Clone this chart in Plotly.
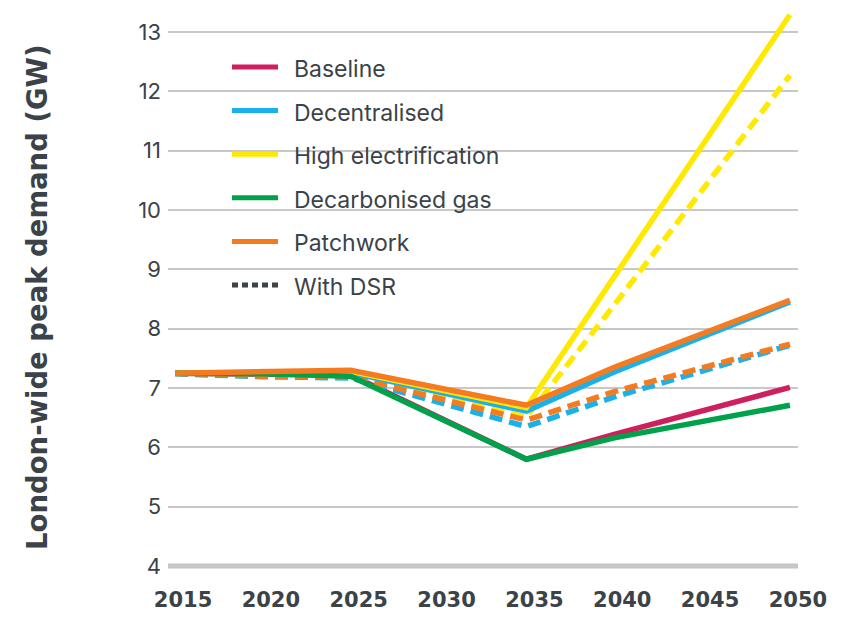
import plotly.graph_objects as go

# ---- data ----
years = [2015, 2020, 2025, 2035, 2040, 2050]
baseline = [7.25, 7.24, 7.22, 5.80, 6.22, 7.01]
decentralised = [7.25, 7.25, 7.26, 6.61, 7.27, 8.45]
high_electrification = [7.25, 7.26, 7.28, 6.67, 8.88, 13.29]
decarbonised_gas = [7.25, 7.24, 7.20, 5.80, 6.16, 6.71]
patchwork = [7.25, 7.27, 7.30, 6.71, 7.35, 8.48]

decentralised_dsr = [7.24, 7.19, 7.17, 6.35, 6.85, 7.72]
high_electrification_dsr = [7.24, 7.20, 7.18, 6.51, 8.40, 12.27]
patchwork_dsr = [7.25, 7.20, 7.19, 6.46, 6.94, 7.74]

x_ticks = [2015, 2020, 2025, 2030, 2035, 2040, 2045, 2050]
y_ticks = [4, 5, 6, 7, 8, 9, 10, 11, 12, 13]

legend_names = ["Baseline", "Decentralised", "High electrification",
                "Decarbonised gas", "Patchwork", "With DSR"]

# ---- styles ----
C_BASE = "#cf1f5e"
C_DEC = "#1ab0ea"
C_HIGH = "#ffe900"
C_GAS = "#00a14b"
C_PATCH = "#f47b20"
C_TEXT = "#3b4248"
C_GRID = "#c8c8c8"
DASH = "13px,7px"
LW = 5.5

OFF = 8  # page body margin
W, H = 835, 611
L_M, R_M, T_M, B_M = 160, 45, 0, 50
PW, PH = W - L_M - R_M, H - T_M - B_M


def px_x(px):
    return (px - OFF - L_M) / PW


def px_y(py):
    return (H - B_M - (py - OFF)) / PH


fig = go.Figure()


def add(y, color, dash=None):
    fig.add_trace(go.Scatter(
        x=years, y=y, mode="lines", showlegend=False, hoverinfo="skip",
        line=dict(color=color, width=LW, dash=dash if dash else "solid"),
    ))


add(baseline, C_BASE)
add(high_electrification_dsr, C_HIGH, DASH)
add(decentralised_dsr, C_DEC, DASH)
add(patchwork_dsr, C_PATCH, DASH)
add(decentralised, C_DEC)
add(high_electrification, C_HIGH)
add(decarbonised_gas, C_GAS)
add(patchwork, C_PATCH)

# baseline axis line at 4
fig.add_shape(type="line", xref="x", yref="y", x0=2014.6, x1=2050.46,
              y0=4, y1=4, line=dict(color="#c4c4c4", width=5), layer="below")

# manual legend
leg_colors = [C_BASE, C_DEC, C_HIGH, C_GAS, C_PATCH, C_TEXT]
leg_y0, leg_step = 67, 43.6
for i, (name, col) in enumerate(zip(legend_names, leg_colors)):
    py = leg_y0 + i * leg_step
    fig.add_shape(type="line", xref="paper", yref="paper",
                  x0=px_x(232), x1=px_x(278), y0=px_y(py), y1=px_y(py),
                  line=dict(color=col, width=5,
                            dash="6px,4px" if name == "With DSR" else "solid"))
    fig.add_annotation(text=name, xref="paper", yref="paper",
                       x=px_x(292), y=px_y(py + 2), xanchor="left",
                       yanchor="middle", showarrow=False,
                       font=dict(family="Inter", size=23, color=C_TEXT))

# y title
fig.add_annotation(text="London-wide peak demand (GW)", xref="paper",
                   yref="paper", x=px_x(37), y=px_y(297), textangle=-90,
                   xanchor="center", yanchor="middle", showarrow=False,
                   font=dict(family="DejaVu Sans", size=27.5, color=C_TEXT,
                             weight="bold"))

fig.update_layout(
    width=W, height=H,
    margin=dict(l=L_M, r=R_M, t=T_M, b=B_M),
    paper_bgcolor="white", plot_bgcolor="white",
    xaxis=dict(range=[2014.6, 2050.46], tickvals=x_ticks,
               ticktext=[str(v) for v in x_ticks], showgrid=False,
               zeroline=False, showline=False, ticks="",
               ticklabelshift=8, ticklabelstandoff=16,
               tickfont=dict(family="DejaVu Sans", size=21, color=C_TEXT,
                             weight="bold")),
    yaxis=dict(range=[3.95, 13.405], tickvals=y_ticks, showgrid=True,
               gridcolor=C_GRID, gridwidth=2, zeroline=False,
               showline=False, ticks="", ticklabelstandoff=6,
               tickfont=dict(family="Inter", size=22, color=C_TEXT)),
)

fig.write_html("out.html")
